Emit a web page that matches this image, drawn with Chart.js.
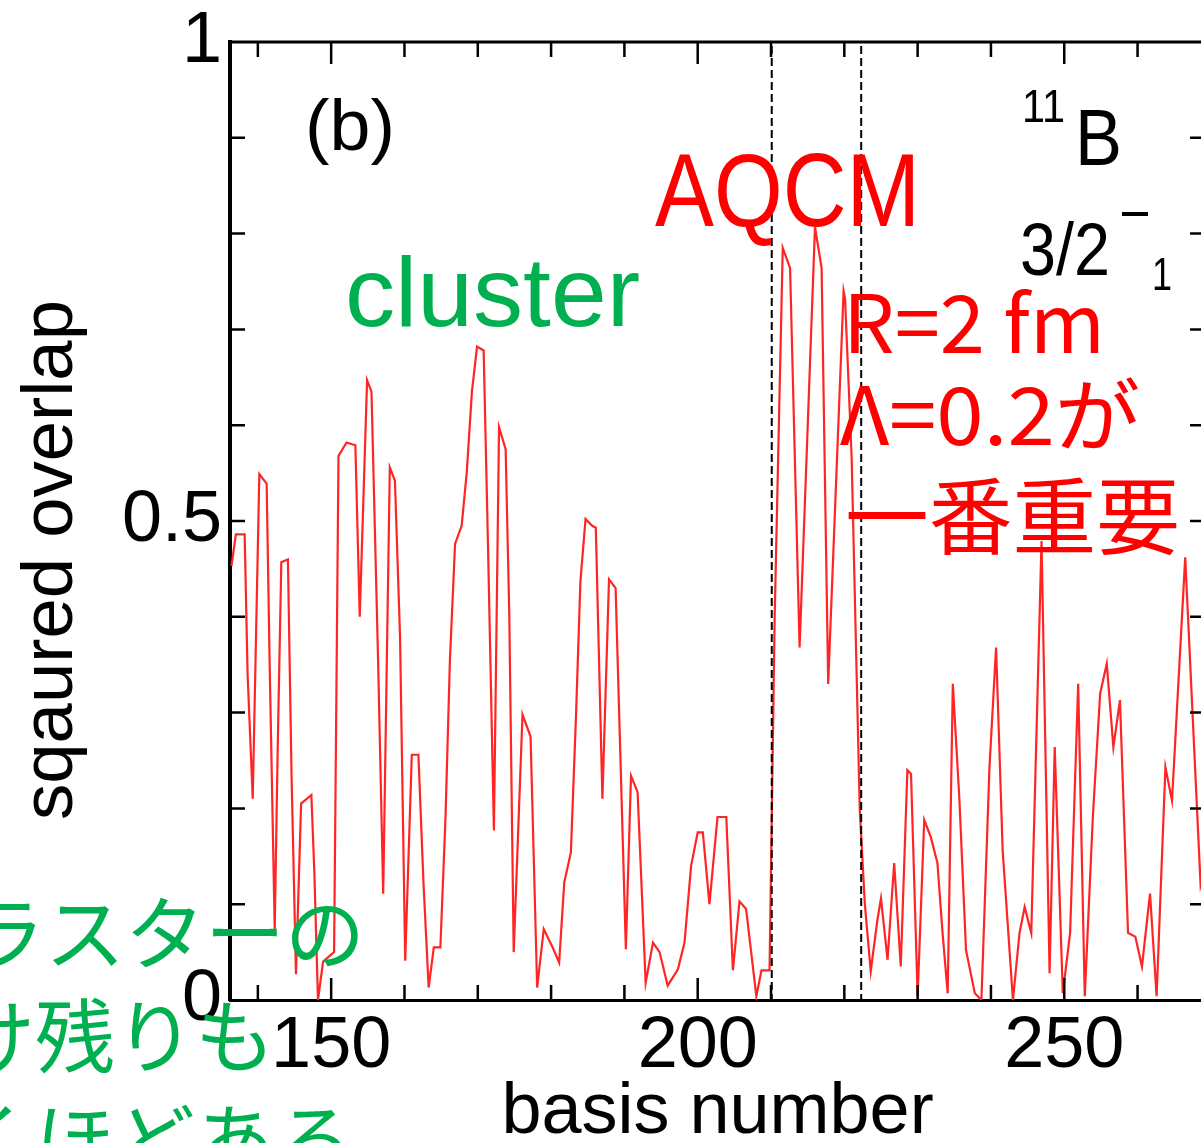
<!DOCTYPE html>
<html>
<head>
<meta charset="utf-8">
<script src="https://cdn.jsdelivr.net/npm/chart.js@4.4.1/dist/chart.umd.min.js"></script>
<style>
  html, body { margin: 0; padding: 0; background: #fff; overflow: hidden; }
  canvas { display: block; }
</style>
</head>
<body>
<canvas id="overlapChart" width="1215" height="1160"></canvas>
<script>
// basis number (x) and squared overlap (y)
var basisNumber = [
  136.4, 137.0, 138.2, 138.6, 139.3, 140.2, 141.2, 141.6, 142.3, 142.7,
  143.2, 144.1, 144.6, 145.2, 145.9, 147.3, 147.7, 148.2, 148.9, 149.8,
  150.4, 151.0, 152.1, 153.3, 153.9, 154.9, 155.5, 156.4, 157.1, 158.0,
  158.7, 159.4, 160.1, 161.0, 161.9, 162.6, 163.3, 164.0, 164.9, 165.6,
  166.2, 166.9, 167.8, 168.5, 169.2, 169.9, 170.8, 171.4, 172.2, 172.9,
  173.8, 174.3, 174.9, 176.1, 177.2, 178.1, 179.0, 180.2, 181.1, 181.8,
  182.7, 183.4, 184.0, 184.7, 185.6, 186.1, 187.0, 187.9, 188.8, 190.2,
  190.9, 191.8, 192.9, 193.9, 194.8, 195.9, 197.3, 198.2, 199.1, 200.0,
  200.7, 201.6, 202.7, 203.9, 204.8, 205.7, 206.6, 208.0, 208.7, 209.8,
  210.5, 211.6, 212.6, 213.9, 216.0, 216.9, 217.8, 219.9, 220.1, 221.0,
  222.1, 222.8, 223.6, 224.5, 225.0, 225.9, 226.8, 227.7, 228.6, 229.1,
  230.0, 230.9, 231.8, 232.7, 233.4, 234.1, 234.8, 235.7, 236.6, 237.8,
  238.7, 239.8, 240.7, 241.6, 243.0, 243.9, 244.6, 245.5, 246.9, 248.0,
  248.7, 249.8, 250.8, 251.9, 252.8, 253.9, 254.9, 255.8, 256.7, 257.6,
  258.7, 259.7, 260.6, 261.7, 262.6, 263.8, 264.7, 266.5, 268.6, 269.0
];
var overlap = [
  0.453, 0.486, 0.486, 0.340, 0.210, 0.549, 0.539, 0.355, 0.074, 0.260,
  0.457, 0.460, 0.233, 0.027, 0.205, 0.214, 0.135, 0.000, 0.040, 0.046,
  0.050, 0.568, 0.582, 0.579, 0.400, 0.647, 0.635, 0.355, 0.111, 0.556,
  0.542, 0.378, 0.041, 0.256, 0.256, 0.121, 0.013, 0.055, 0.055, 0.191,
  0.355, 0.476, 0.495, 0.551, 0.635, 0.682, 0.678, 0.472, 0.177, 0.598,
  0.575, 0.401, 0.050, 0.298, 0.275, 0.013, 0.074, 0.055, 0.039, 0.123,
  0.154, 0.297, 0.437, 0.502, 0.495, 0.493, 0.210, 0.439, 0.430, 0.053,
  0.234, 0.217, 0.018, 0.060, 0.050, 0.015, 0.032, 0.060, 0.140, 0.175,
  0.175, 0.100, 0.191, 0.191, 0.031, 0.103, 0.095, 0.004, 0.031, 0.031,
  0.400, 0.785, 0.764, 0.368, 0.807, 0.764, 0.330, 0.740, 0.732, 0.566,
  0.200, 0.100, 0.030, 0.083, 0.106, 0.042, 0.143, 0.035, 0.240, 0.236,
  0.004, 0.188, 0.170, 0.143, 0.070, 0.007, 0.330, 0.209, 0.052, 0.007,
  0.000, 0.243, 0.368, 0.156, 0.000, 0.070, 0.097, 0.070, 0.479, 0.028,
  0.264, 0.007, 0.070, 0.330, 0.004, 0.191, 0.320, 0.351, 0.264, 0.313,
  0.070, 0.066, 0.035, 0.111, 0.004, 0.243, 0.208, 0.462, 0.120, 0.132
];

var xTickLabels = [150, 200, 250];
var yTickLabels = [0, 0.5, 1];
var xMinorTicks = [140, 150, 160, 170, 180, 190, 200, 210, 220, 230, 240, 250, 260];
var yMinorTicks = [0.1, 0.2, 0.3, 0.4, 0.5, 0.6, 0.7, 0.8, 0.9];
var dividers = [210.1, 222.3];   // dashed region boundaries

var points = basisNumber.map(function (b, i) { return { x: b, y: overlap[i] }; });

// squeeze/stretch text horizontally to a target width
function fitText(ctx, text, x, y, width, font, color) {
    ctx.save();
    ctx.font = font;
    var w = ctx.measureText(text).width;
    ctx.translate(x, y);
    ctx.scale(width / w, 1);
    ctx.fillStyle = color;
    ctx.fillText(text, 0, 0);
    ctx.restore();
}

var framePlugin = {
    id: 'frame',
    afterDraw: function (chart) {
        var ctx = chart.ctx;
        var area = chart.chartArea;
        var xs = chart.scales.x;
        var ys = chart.scales.y;

        ctx.save();
        ctx.strokeStyle = '#000';

        // top border
        ctx.lineWidth = 3;
        ctx.beginPath();
        ctx.moveTo(area.left - 2, area.top);
        ctx.lineTo(area.right, area.top);
        ctx.stroke();

        // inward ticks
        ctx.lineWidth = 2.5;
        xMinorTicks.forEach(function (v) {
            var px = xs.getPixelForValue(v);
            var len = xTickLabels.indexOf(v) >= 0 ? 22 : 15;
            ctx.beginPath();
            ctx.moveTo(px, area.bottom);
            ctx.lineTo(px, area.bottom - len);
            ctx.moveTo(px, area.top);
            ctx.lineTo(px, area.top + len);
            ctx.stroke();
        });
        yMinorTicks.forEach(function (v) {
            var py = ys.getPixelForValue(v);
            ctx.beginPath();
            ctx.moveTo(area.left, py);
            ctx.lineTo(area.left + 15, py);
            ctx.moveTo(area.right, py);
            ctx.lineTo(area.right - 15, py);
            ctx.stroke();
        });

        // dashed dividers
        ctx.lineWidth = 2;
        ctx.setLineDash([8, 4]);
        dividers.forEach(function (v) {
            var px = xs.getPixelForValue(v);
            ctx.beginPath();
            ctx.moveTo(px, area.top + 4);
            ctx.lineTo(px, area.bottom);
            ctx.stroke();
        });
        ctx.setLineDash([]);

        // y axis title
        ctx.save();
        ctx.translate(52, 560);
        ctx.rotate(-Math.PI / 2);
        ctx.textAlign = 'left';
        ctx.textBaseline = 'middle';
        fitText(ctx, 'sqaured overlap', -260, 0, 520, '72px "Liberation Sans"', '#000');
        ctx.restore();

        ctx.textBaseline = 'alphabetic';
        ctx.textAlign = 'left';

        // panel label and nucleus / state
        fitText(ctx, '(b)', 305, 150, 90, '72px "Liberation Sans"', '#000');
        fitText(ctx, '11', 1022, 122, 43, '46px "Liberation Sans"', '#000');
        fitText(ctx, 'B', 1075, 165, 47, '80px "Liberation Sans"', '#000');
        fitText(ctx, '3/2', 1020, 275, 90, '74px "Liberation Sans"', '#000');
        ctx.fillStyle = '#000';
        ctx.fillRect(1122, 212, 26, 4);
        fitText(ctx, '1', 1152, 290, 20, '46px "Liberation Sans"', '#000');

        // red annotations
        var red = '#ff0000';
        fitText(ctx, 'AQCM', 655, 226, 265, '104px "Liberation Sans"', red);
        fitText(ctx, 'R=2 fm', 843, 353, 262, '80px "Noto Sans CJK JP"', red);
        fitText(ctx, 'Λ=0.2が', 840, 445, 300, '80px "Noto Sans CJK JP"', red);
        fitText(ctx, '一番重要', 845, 548, 335, '84px "Noto Sans CJK JP"', red);

        // green annotations
        var green = '#00b050';
        fitText(ctx, 'cluster', 345, 326, 295, '98px "Liberation Sans"', green);
        ctx.font = '80px "Noto Sans CJK JP"';
        ctx.fillStyle = green;
        ctx.fillText('クラスターの', -115, 963);
        ctx.fillText('溶け残りも', -125, 1066);
        ctx.fillText('驚くほどある', -125, 1170);

        ctx.restore();
    }
};

new Chart(document.getElementById('overlapChart').getContext('2d'), {
    type: 'line',
    data: {
        datasets: [{
            label: 'squared overlap',
            data: points,
            borderColor: '#ff2525',
            borderWidth: 2.2,
            pointRadius: 0,
            tension: 0,
            fill: false
        }]
    },
    options: {
        responsive: false,
        animation: false,
        events: [],
        layout: { padding: { top: 42, right: 10, left: 0, bottom: 0 } },
        plugins: {
            legend: { display: false },
            tooltip: { enabled: false }
        },
        scales: {
            x: {
                type: 'linear',
                min: 136.2,
                max: 269.2,
                afterFit: function (s) {
                    s.height = 160;
                    s.paddingLeft = 0;
                    s.paddingRight = 0;
                },
                afterBuildTicks: function (s) {
                    s.ticks = xTickLabels.map(function (v) { return { value: v }; });
                },
                grid: { display: false, drawTicks: false },
                border: { display: true, color: '#000', width: 3 },
                ticks: {
                    color: '#000',
                    padding: 4,
                    maxRotation: 0,
                    font: { family: 'Liberation Sans', size: 72 }
                },
                title: {
                    display: true,
                    text: 'basis number',
                    color: '#000',
                    padding: { top: 0, bottom: 4 },
                    font: { family: 'Liberation Sans', size: 72 }
                }
            },
            y: {
                min: 0,
                max: 1,
                afterFit: function (s) {
                    s.width = 230;
                    s.paddingTop = 0;
                    s.paddingBottom = 0;
                },
                afterBuildTicks: function (s) {
                    s.ticks = yTickLabels.map(function (v) { return { value: v }; });
                },
                grid: { display: false, drawTicks: false },
                border: { display: true, color: '#000', width: 4 },
                ticks: {
                    color: '#000',
                    padding: 8,
                    font: { family: 'Liberation Sans', size: 72 },
                    callback: function (v) { return String(v); }
                }
            }
        }
    },
    plugins: [framePlugin]
});
</script>
</body>
</html>
